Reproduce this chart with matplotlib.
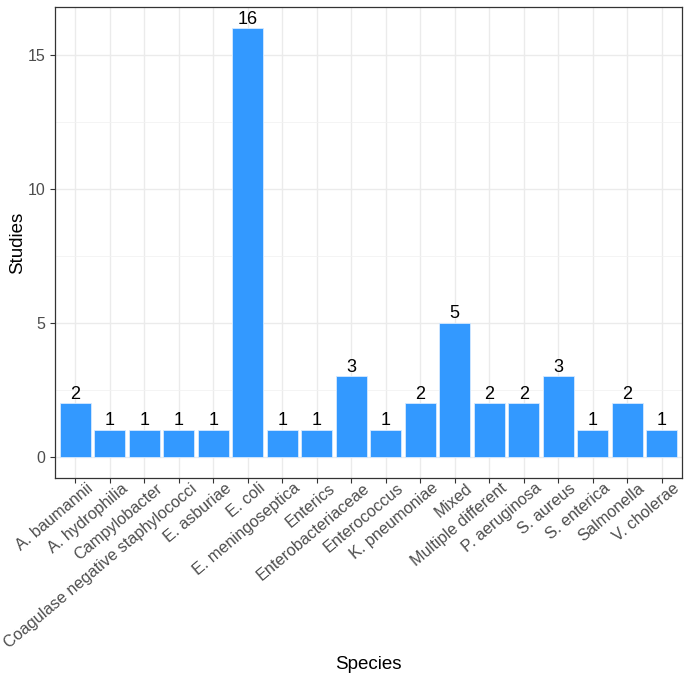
import matplotlib.pyplot as plt
from matplotlib.ticker import MultipleLocator
from matplotlib.transforms import ScaledTranslation

plt.rcParams['font.family'] = ['Liberation Sans', 'DejaVu Sans']

species = ["A. baumannii", "A. hydrophilia", "Campylobacter",
           "Coagulase negative staphylococci", "E. asburiae", "E. coli",
           "E. meningoseptica", "Enterics", "Enterobacteriaceae",
           "Enterococcus", "K. pneumoniae", "Mixed", "Multiple different",
           "P. aeruginosa", "S. aureus", "S. enterica", "Salmonella",
           "V. cholerae"]
studies = [2, 1, 1, 1, 1, 16, 1, 1, 3, 1, 2, 5, 2, 2, 3, 1, 2, 1]

fig = plt.figure(figsize=(6.85, 6.83), dpi=100)
ax = fig.add_axes([0.080, 0.300, 0.916, 0.690])

xs = list(range(len(species)))
ax.bar(xs, studies, width=0.9, color='#3399ff', edgecolor='#d6eaff',
       linewidth=0.6, zorder=2)
for x, v in zip(xs, studies):
    ax.text(x, v + 0.02, str(v), ha='center', va='bottom', fontsize=13,
            color='black', zorder=3)

ax.set_xlim(-0.6, len(species) - 0.4)
ax.set_ylim(-0.8, 16.8)
ax.yaxis.set_major_locator(MultipleLocator(5))
ax.yaxis.set_minor_locator(MultipleLocator(2.5))
ax.set_xticks(xs)
ax.set_xticklabels([''] * len(species))

# rotated category labels, placed like ggplot's angle + hjust=1
lab_trans = ax.get_xaxis_transform() + ScaledTranslation(0.11, -0.025, fig.dpi_scale_trans)
for x, name in zip(xs, species):
    ax.text(x, 0, name, transform=lab_trans, rotation=40, ha='right', va='top',
            rotation_mode='anchor', fontsize=11.7, color='#4d4d4d')

ax.grid(True, which='major', color='#ebebeb', linewidth=1.0, zorder=0)
ax.grid(True, which='minor', axis='y', color='#f2f2f2', linewidth=0.6, zorder=0)
ax.set_axisbelow(True)

ax.tick_params(axis='both', which='major', length=3.5, width=0.8,
               color='#333333', labelcolor='#4d4d4d')
ax.tick_params(axis='y', which='major', labelsize=11.5)
ax.tick_params(axis='y', which='minor', length=0)
for s in ax.spines.values():
    s.set_color('#333333')
    s.set_linewidth(0.9)

ax.set_xlabel("Species", fontsize=13.5, va='center')
ax.xaxis.set_label_coords(0.5, -0.395)
ax.set_ylabel("Studies", fontsize=13.5, va='center')
ax.yaxis.set_label_coords(-0.059, 0.5)

fig.savefig("out.png", dpi=100)
